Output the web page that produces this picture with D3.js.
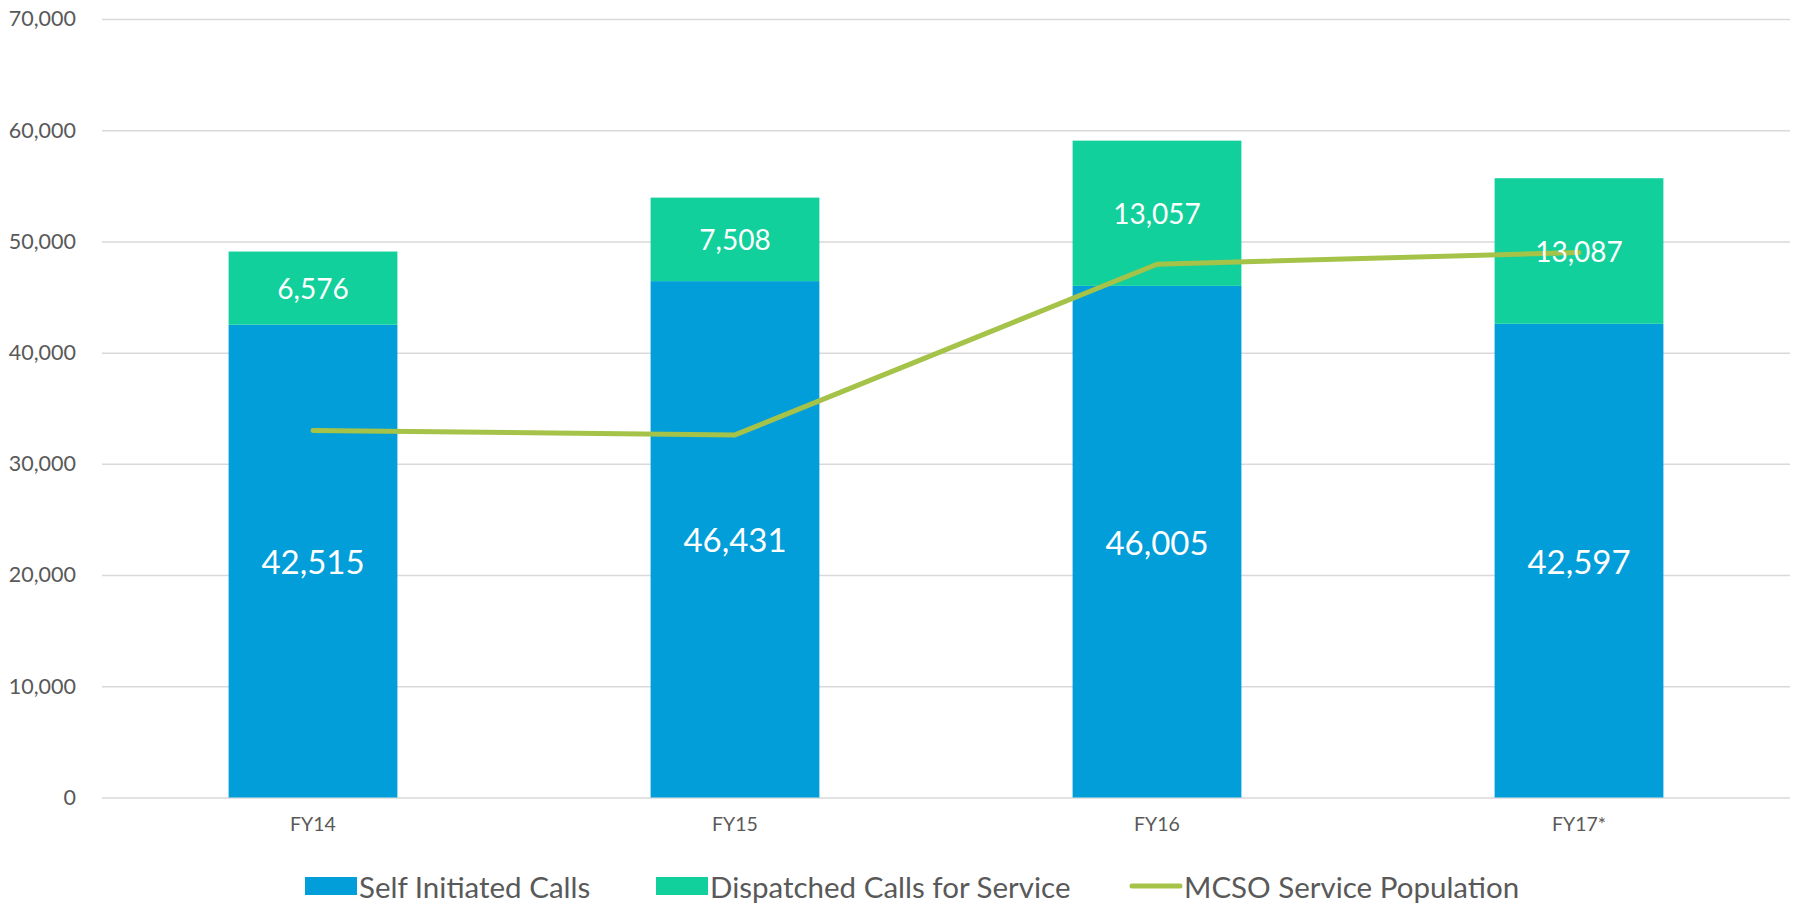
<!DOCTYPE html>
<html>
<head>
<meta charset="utf-8">
<script src="https://cdn.jsdelivr.net/npm/d3@7/dist/d3.min.js"></script>
<style>
  html, body { margin: 0; padding: 0; background: #fff; }
  svg { display: block; font-family: Lato, "Open Sans", sans-serif; }
</style>
</head>
<body>
<svg id="chart" width="1794" height="903"></svg>
<script>
const categories = ["FY14", "FY15", "FY16", "FY17*"];
const selfInitiated = [42515, 46431, 46005, 42597];
const dispatched = [6576, 7508, 13057, 13087];
const servicePopulation = [33000, 32600, 47950, 49000];
const yTicks = [0, 10000, 20000, 30000, 40000, 50000, 60000, 70000];
const seriesNames = ["Self Initiated Calls", "Dispatched Calls for Service", "MCSO Service Population"];
const colors = { self: "#029ED9", disp: "#12D09B", line: "#A5C249", text: "#595959", grid: "#D9D9D9" };

const svg = d3.select("#chart");
const margin = { left: 102, right: 4, top: 19, bottom: 105 };
const W = 1794, H = 903;

const x = d3.scaleBand().domain(categories)
  .range([margin.left, W - margin.right])
  .paddingInner(0.6).paddingOuter(0.3);
const y = d3.scaleLinear().domain([0, 70000]).range([H - margin.bottom - 0.5, margin.top]);

// gridlines
const yAxis = d3.axisLeft(y).tickValues(yTicks).tickSize(-(W - margin.right - margin.left))
  .tickFormat(d3.format(","));
const gy = svg.append("g").attr("transform", `translate(${margin.left},0)`).call(yAxis);
gy.select(".domain").remove();
gy.selectAll(".tick line").attr("stroke", colors.grid).attr("stroke-width", 1.5);
gy.selectAll(".tick text").attr("fill", colors.text).attr("font-size", 21.5)
  .attr("x", -26).attr("font-family", "Lato, sans-serif");

// x axis
const xAxis = d3.axisBottom(x).tickSize(0);
const gx = svg.append("g").attr("transform", `translate(0,${y(0)})`).call(xAxis);
gx.select(".domain").remove();
gx.selectAll(".tick text").attr("fill", colors.text).attr("font-size", 19.5)
  .attr("dy", 0).attr("y", 33).attr("font-family", "Lato, sans-serif");

const data = categories.map((c, i) => ({ c, s: selfInitiated[i], d: dispatched[i], p: servicePopulation[i] }));

// bars
svg.append("g").selectAll("rect.self").data(data).join("rect")
  .attr("x", d => x(d.c)).attr("width", x.bandwidth())
  .attr("y", d => y(d.s)).attr("height", d => y(0) - y(d.s))
  .attr("fill", colors.self);
svg.append("g").selectAll("rect.disp").data(data).join("rect")
  .attr("x", d => x(d.c)).attr("width", x.bandwidth())
  .attr("y", d => y(d.s + d.d)).attr("height", d => y(d.s) - y(d.s + d.d))
  .attr("fill", colors.disp);

// line
const line = d3.line().x(d => x(d.c) + x.bandwidth() / 2).y(d => y(d.p));
svg.append("path").datum(data).attr("d", line)
  .attr("fill", "none").attr("stroke", colors.line).attr("stroke-width", 5)
  .attr("stroke-linecap", "round").attr("stroke-linejoin", "round");

// labels
const fmt = d3.format(",");
svg.append("g").selectAll("text").data(data).join("text")
  .attr("x", d => x(d.c) + x.bandwidth() / 2).attr("y", d => y(d.s / 2))
  .attr("text-anchor", "middle").attr("dominant-baseline", "central")
  .attr("fill", "#fff").attr("font-size", 33).text(d => fmt(d.s));
svg.append("g").selectAll("text").data(data).join("text")
  .attr("x", d => x(d.c) + x.bandwidth() / 2).attr("y", d => y(d.s + d.d / 2))
  .attr("text-anchor", "middle").attr("dominant-baseline", "central")
  .attr("fill", "#fff").attr("font-size", 28).text(d => fmt(d.d));

// legend
const leg = svg.append("g").attr("font-size", 29.5).attr("fill", colors.text);
const legItems = [
  { name: seriesNames[0], type: "rect", color: colors.self, x: 305 },
  { name: seriesNames[1], type: "rect", color: colors.disp, x: 656 },
  { name: seriesNames[2], type: "line", color: colors.line, x: 1130 }
];
const ly = 886;
legItems.forEach(it => {
  if (it.type === "rect") {
    leg.append("rect").attr("x", it.x).attr("y", ly - 9).attr("width", 52).attr("height", 18).attr("fill", it.color);
  } else {
    leg.append("line").attr("x1", it.x + 2).attr("x2", it.x + 50).attr("y1", ly).attr("y2", ly)
      .attr("stroke", it.color).attr("stroke-width", 5).attr("stroke-linecap", "round");
  }
  leg.append("text").attr("x", it.x + 54).attr("y", ly).attr("dominant-baseline", "central")
    .attr("fill", colors.text).text(it.name);
});
</script>
</body>
</html>
